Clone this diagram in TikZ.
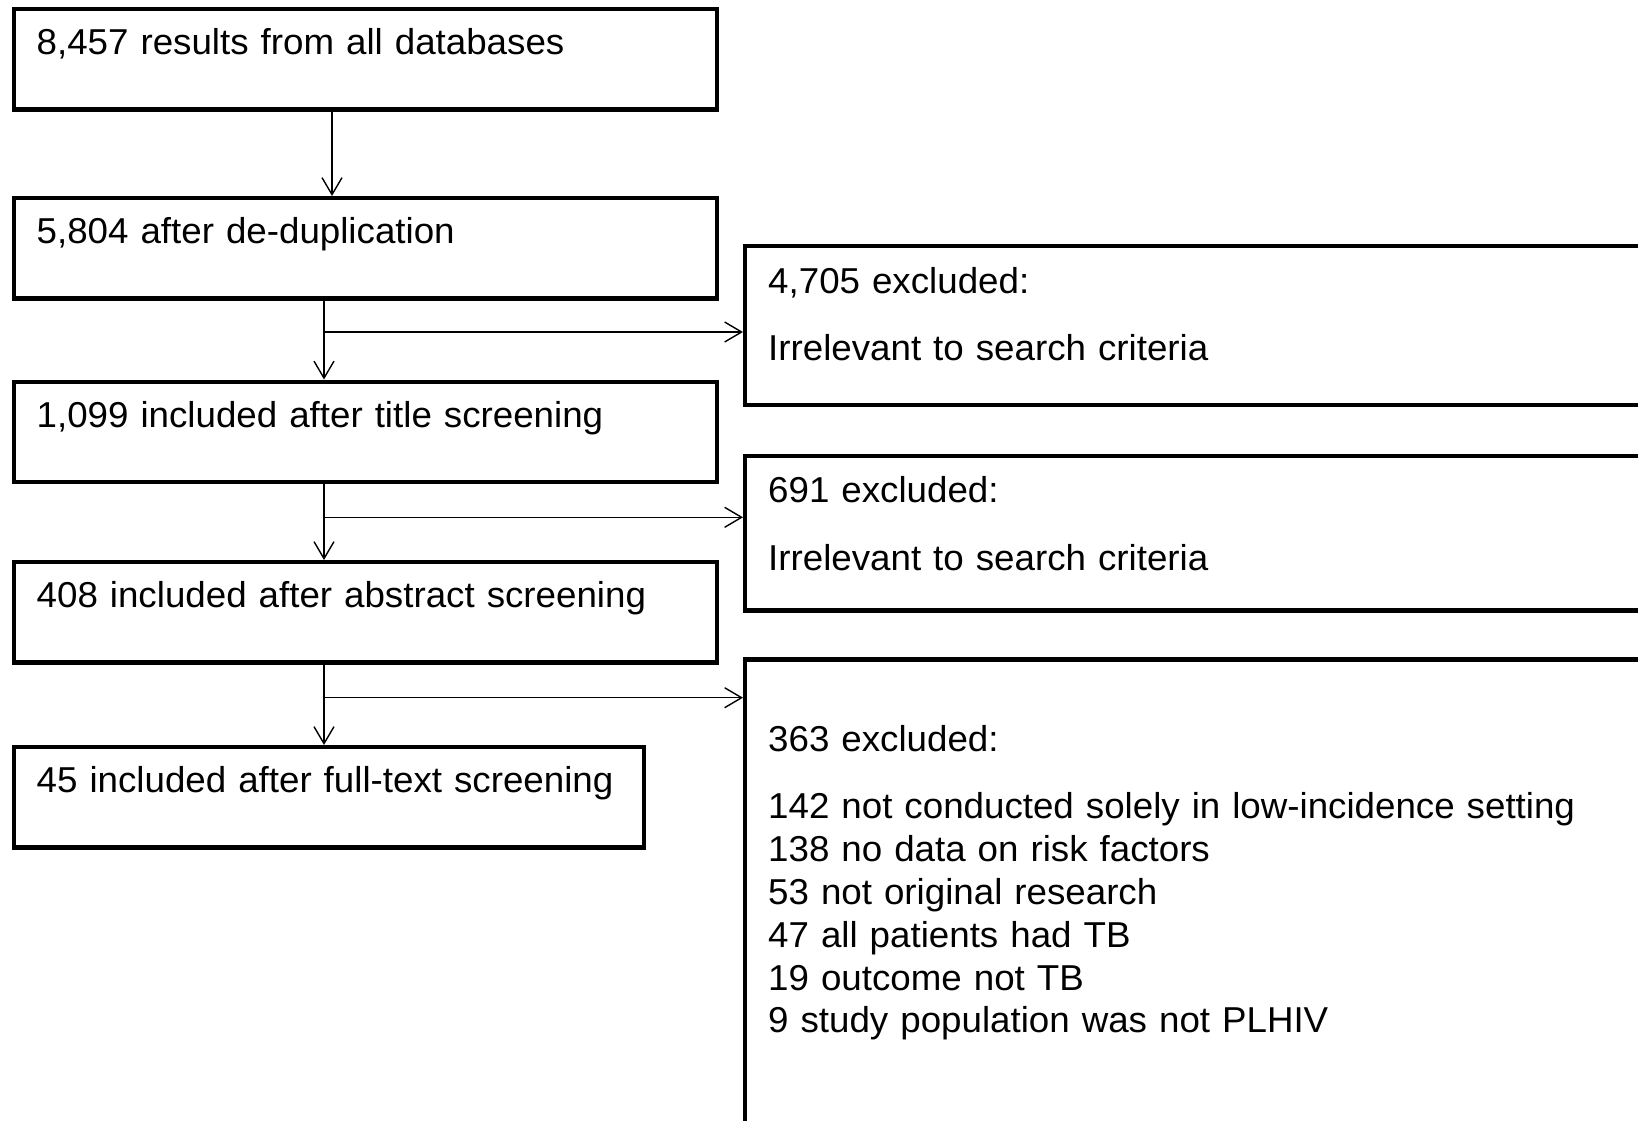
\documentclass[tikz,border=0pt]{standalone}
\usepackage{fontspec}
\setmainfont{Liberation Sans}[FakeStretch=1.02]
\usepackage{tikz}
\usetikzlibrary{arrows.meta,positioning,calc}

\begin{document}
\begin{tikzpicture}[
	x=0.5pt, y=-0.5pt,
	box/.style={
		draw,
		line width=2.2pt,
		anchor=north west,
		inner xsep=11.5pt,
		inner ysep=0pt,
		align=left,
		font=\fontsize{18}{21.4}\selectfont
	},
	stage/.style={box, text width=328.75pt, text height=22.8pt, text depth=27.4pt},
	excl/.style={box, text width=477pt},
	arr/.style={
		-{Straight Barb[length=8.5pt,width=10pt]},
		line width=0.7pt
	},
	]
	\useasboundingbox (0,0) rectangle (1638,1120);
	\clip (0,0) rectangle (1638,1120);
	
	% screening stages
	\node[stage] (res) at (11.5,7) {8,457 results from all databases};
	\node[stage] (dedup) at (11.5,196) {5,804 after de-duplication};
	\node[stage] (title) at (11.5,379.5) {1,099 included after title screening};
	\node[stage] (abstr) at (11.5,560) {408 included after abstract screening};
	\node[stage, text width=292pt] (full) at (11.5,745) {45 included after full-text screening};
	
	% exclusions
	\node[excl, text height=23.6pt, text depth=55.7pt] (exA) at (743,244)
		{4,705 excluded:\\[12pt] Irrelevant to search criteria};
	\node[excl, text height=22.9pt, text depth=54.2pt] (exB) at (743,454)
		{691 excluded:\\[12.6pt] Irrelevant to search criteria};
	\node[excl, text height=46pt, text depth=240pt] (exC) at (743,657.3)
		{363 excluded:\\[12.3pt]
		142 not conducted solely in low-incidence setting\\
		138 no data on risk factors\\
		53 not original research\\
		47 all patients had TB\\
		19 outcome not TB\\
		9 study population was not PLHIV};
	
	\coordinate (s1) at (332,0);
	\coordinate (s2) at (324,0);
	\coordinate (j1) at (324,332);
	\coordinate (j2) at (324,517.3);
	\coordinate (j3) at (324,697.7);
	
	\draw[arr] (res.south -| s1) -- (dedup.north -| s1);
	\draw[arr] (dedup.south -| s2) -- (title.north -| s2);
	\draw[arr] (title.south -| s2) -- (abstr.north -| s2);
	\draw[arr] (abstr.south -| s2) -- (full.north -| s2);
	
	\draw[arr] (j1) -- (j1 -| exA.west);
	\draw[arr] (j2) -- (j2 -| exB.west);
	\draw[arr] (j3) -- (j3 -| exC.west);
\end{tikzpicture}
\end{document}
